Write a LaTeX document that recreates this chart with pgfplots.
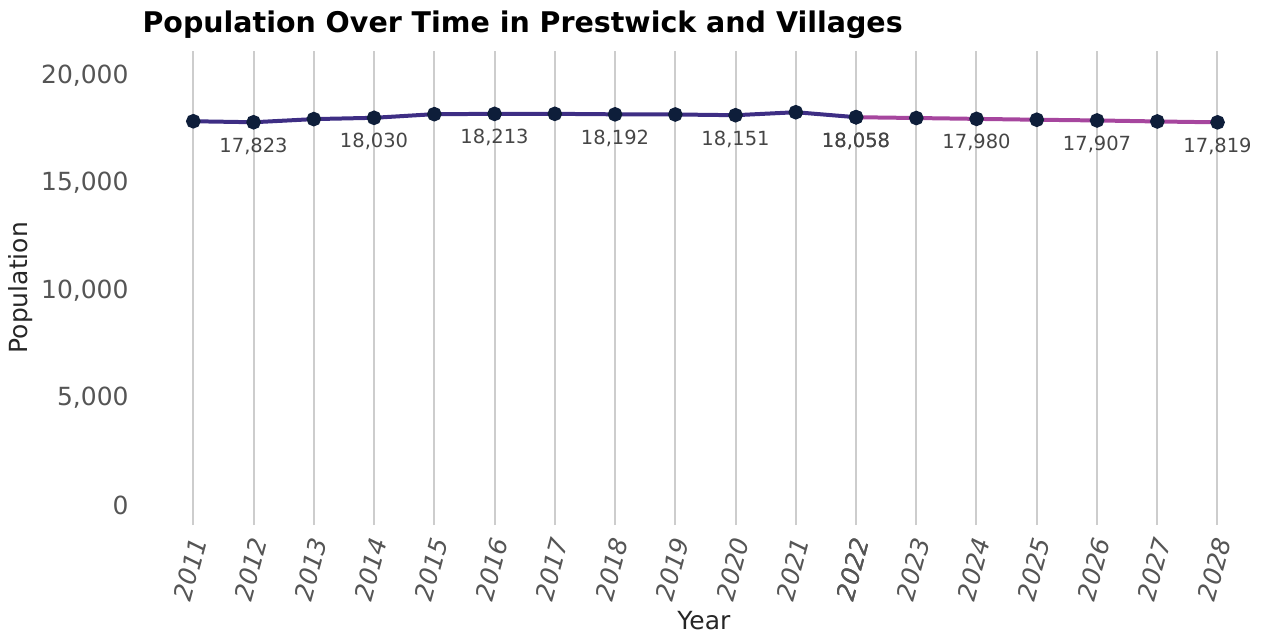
\documentclass[border=0pt]{standalone}
\usepackage{fontspec}
\setmainfont{DejaVu Sans}
\usepackage{pgfplots}
\pgfplotsset{compat=1.18}

\definecolor{histline}{RGB}{62,46,132}
\definecolor{projline}{RGB}{166,70,158}
\definecolor{dotcol}{RGB}{14,30,58}
\definecolor{tickgray}{RGB}{85,85,85}
\definecolor{labgray}{RGB}{70,70,70}
\definecolor{gridgray}{RGB}{205,205,205}

\begin{document}
\begin{tikzpicture}
\begin{axis}[
  scale only axis, width=450pt, height=190pt,
  xmin=2010.15, xmax=2028.8, ymin=-930, ymax=21160,
  axis line style={draw=none},
  major tick length=0pt,
  xtick={2011,...,2028},
  ytick={0,5000,10000,15000,20000},
  scaled y ticks=false,
  xmajorgrids, grid style={gridgray, line width=0.8pt},
  extra x ticks={2022}, extra x tick style={grid=none},
  /pgf/number format/assume math mode=true,
  x tick label style={/pgf/number format/1000 sep={}, font=\fontsize{10}{12}\selectfont\itshape,
    text=tickgray, xshift=3pt, yshift=-2pt, rotate=75, anchor=east},
  y tick label style={/pgf/number format/1000 sep={,}, font=\fontsize{10}{12}\selectfont,
    text=tickgray, xshift=-1.9pt},
  title={Population Over Time in Prestwick and Villages},
  title style={at={(rel axis cs:0,1)}, anchor=base west, inner xsep=0pt, inner ysep=4.4pt,
    yshift=1.2pt, font=\bfseries\fontsize{11.4}{13}\selectfont},
  xlabel={Year}, ylabel={Population},
  xlabel style={at={(axis description cs:0.5,-0.202)}, anchor=center, font=\fontsize{10}{12}\selectfont, text=black!85},
  ylabel style={at={(axis description cs:-0.1083,0.5)}, anchor=center, font=\fontsize{10}{12}\selectfont, text=black!85},
  clip=false,
]
% historical
\addplot[histline, line width=1.6pt, mark=*, mark size=2.1pt, mark options={draw=dotcol, fill=dotcol}]
coordinates {(2011,17870)(2012,17823)(2013,17970)(2014,18030)(2015,18200)(2016,18213)
(2017,18215)(2018,18192)(2019,18185)(2020,18151)(2021,18290)(2022,18058)};
% projection
\addplot[projline, line width=1.6pt, mark=*, mark size=2.1pt, mark options={draw=dotcol, fill=dotcol}]
coordinates {(2022,18058)(2023,18020)(2024,17980)(2025,17940)(2026,17907)(2027,17860)(2028,17819)};
% value labels
\addplot[draw=none, mark=none, point meta=y, nodes near coords,
  nodes near coords style={anchor=center, yshift=-9.6pt, text=labgray,
    font=\fontsize{7.8}{9}\selectfont, /pgf/number format/1000 sep={,}, /pgf/number format/fixed}]
coordinates {(2012,17823)(2014,18030)(2016,18213)(2018,18192)(2020,18151)(2022,18058)};
\addplot[draw=none, mark=none, point meta=y, nodes near coords,
  nodes near coords style={anchor=center, yshift=-9.6pt, text=labgray,
    font=\fontsize{7.8}{9}\selectfont, /pgf/number format/1000 sep={,}, /pgf/number format/fixed}]
coordinates {(2022,18058)(2024,17980)(2026,17907)(2028,17819)};
\end{axis}
\end{tikzpicture}
\end{document}
